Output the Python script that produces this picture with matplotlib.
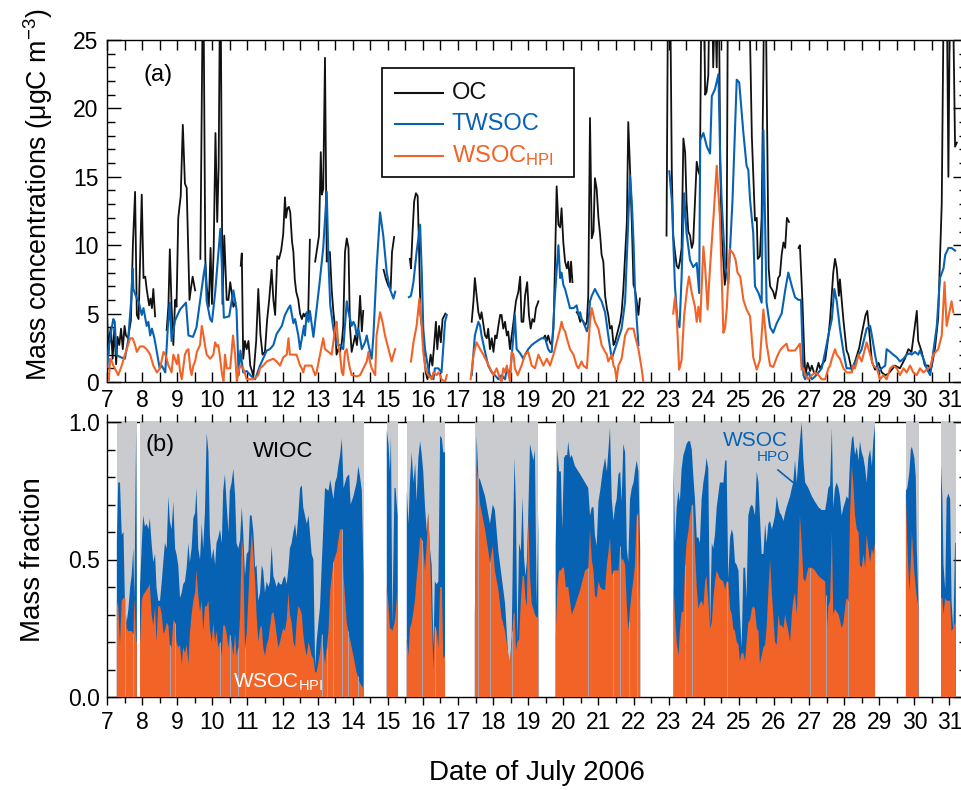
import numpy as np
import matplotlib
matplotlib.use("Agg")
import matplotlib.pyplot as plt
from matplotlib.ticker import MultipleLocator, FormatStrFormatter
from matplotlib.patches import Rectangle
from matplotlib.lines import Line2D

nan = float("nan")

# ---------------- (a) mass concentrations, ugC m-3 : (day of July, value) ----------------
OC = [
    (7.00, 5.1), (7.04, 2.0), (7.08, 3.5), (7.11, 4.0), (7.16, 1.7), (7.21, 3.9), (7.26, 1.3), (7.30, 3.3),
    (7.35, 2.7), (7.40, 3.9), (7.45, 2.4), (7.50, 4.1), (7.54, 3.4), (7.60, 3.2), (7.68, 4.5), (7.74, 10.2),
    (7.80, 13.9), (7.85, 4.9), (7.90, 4.6), (7.99, 13.7), (8.04, 7.6), (8.09, 7.7), (8.13, 6.8), (8.20, 5.6),
    (8.24, 6.1), (8.28, 5.4), (8.32, 6.8), (8.37, 4.8), (8.40, nan),
    (8.70, 3.8), (8.75, 5.6), (8.79, 9.7), (8.84, 5.5), (8.89, 2.7), (8.94, 6.0), (8.98, 5.5), (9.03, 12.0),
    (9.10, 13.6), (9.16, 18.8), (9.22, 14.5), (9.27, 14.2), (9.35, 6.0), (9.40, 7.0), (9.44, 7.7), (9.51, 6.7),
    (9.55, nan),
    (9.66, 9.0), (9.74, 32.0), (9.80, 9.0), (9.84, 7.0), (9.90, 5.5), (9.95, 9.8), (9.99, 5.7), (10.04, 9.8),
    (10.09, 18.2), (10.14, 11.7), (10.18, 15.7), (10.23, 32.0), (10.29, 5.7), (10.34, 10.7), (10.41, 6.0),
    (10.46, 6.0), (10.51, 7.3), (10.56, 6.4), (10.60, 5.5), (10.66, 5.8), (10.70, nan),
    (10.81, 8.5), (10.84, 9.4), (10.88, 1.7), (10.93, 3.0), (10.98, 2.4), (11.03, 3.0), (11.08, 1.2),
    (11.13, 0.8), (11.17, 0.4), (11.25, 3.0), (11.31, 6.8), (11.37, 3.5), (11.43, 2.0), (11.50, 2.2),
    (11.56, 4.5), (11.62, 6.0), (11.69, 8.2), (11.74, 6.0), (11.79, 4.9), (11.85, 9.2), (11.90, 9.0),
    (11.96, 9.6), (12.02, 10.8), (12.07, 13.5), (12.10, 12.0), (12.14, 12.7), (12.18, 12.8), (12.22, 12.4),
    (12.27, 10.3), (12.31, 9.5), (12.35, 7.5), (12.39, 6.6), (12.45, 6.0), (12.50, 5.0), (12.55, 4.6),
    (12.60, 5.0), (12.63, 4.8), (12.67, 5.0), (12.73, 4.8), (12.78, 10.4), (12.82, nan),
    (12.93, 8.8), (13.00, 10.0), (13.04, 10.7), (13.09, 16.8), (13.12, 13.7), (13.16, 14.1), (13.21, 23.7),
    (13.26, 8.8), (13.29, 9.5), (13.35, 9.5), (13.40, 6.8), (13.45, 5.1), (13.50, 3.9), (13.54, 2.0),
    (13.59, 2.4), (13.64, 2.2), (13.69, 2.9), (13.73, 4.1), (13.78, 9.5), (13.83, 10.5), (13.88, 9.8),
    (13.92, 4.1), (13.97, 2.2), (14.07, 3.4), (14.12, 2.7), (14.16, 3.9), (14.21, 6.3), (14.26, 3.7),
    (14.30, 5.2), (14.33, nan),
    (14.88, 8.2), (14.95, 7.5), (15.02, 7.0), (15.08, 6.8), (15.12, 9.5), (15.18, 10.6), (15.22, nan),
    (15.63, 9.0), (15.66, 8.3), (15.70, 10.7), (15.75, 13.2), (15.80, 13.8), (15.85, 13.6), (15.89, 9.8),
    (15.93, 4.9), (15.98, 3.9), (16.03, 2.0), (16.08, 0.7), (16.13, 0.2), (16.17, 1.0), (16.22, 2.0),
    (16.27, 1.2), (16.32, 2.7), (16.37, 4.4), (16.41, 2.4), (16.46, 4.1), (16.51, 2.9), (16.56, 4.6),
    (16.64, 5.0), (16.68, nan),
    (17.39, 4.4), (17.44, 5.9), (17.48, 7.6), (17.53, 6.3), (17.58, 5.1), (17.63, 4.6), (17.67, 5.1),
    (17.77, 3.4), (17.82, 3.2), (17.86, 3.9), (17.91, 2.4), (17.96, 3.2), (18.01, 2.2), (18.06, 3.4),
    (18.10, 3.2), (18.15, 4.1), (18.20, 4.9), (18.24, 4.9), (18.29, 3.9), (18.34, 4.4), (18.39, 3.4),
    (18.43, 3.7), (18.48, 2.4), (18.58, 4.4), (18.65, 5.9), (18.72, 6.6), (18.77, 7.7), (18.81, 4.4),
    (18.86, 4.4), (18.91, 6.3), (18.97, 7.3), (19.02, 4.9), (19.07, 3.9), (19.12, 4.6), (19.17, 4.4),
    (19.22, 5.4), (19.29, 5.9), (19.33, nan),
    (19.43, 3.2), (19.48, 3.4), (19.53, 3.0), (19.57, 3.4), (19.62, 2.9), (19.67, 2.7), (19.72, 3.9),
    (19.76, 8.3), (19.81, 14.3), (19.86, 11.5), (19.91, 11.3), (19.95, 12.7), (20.00, 10.2), (20.05, 8.8),
    (20.10, 8.3), (20.14, 8.8), (20.19, 7.3), (20.22, 8.8), (20.26, 7.3), (20.30, nan),
    (20.38, 5.1), (20.43, 4.9), (20.48, 4.4), (20.52, 4.6), (20.57, 4.4), (20.62, 4.1), (20.67, 4.4),
    (20.71, 6.3), (20.76, 19.3), (20.81, 10.5), (20.86, 11.0), (20.90, 14.9), (20.95, 14.1), (21.00, 12.0),
    (21.05, 10.7), (21.09, 9.3), (21.14, 8.8), (21.19, 6.3), (21.24, 5.4), (21.28, 4.9), (21.33, 3.9),
    (21.38, 4.1), (21.43, 2.7), (21.47, 2.9), (21.52, 3.4), (21.57, 3.9), (21.62, 4.4), (21.66, 5.1),
    (21.71, 6.8), (21.76, 9.3), (21.81, 11.7), (21.85, 19.0), (21.90, 15.6), (21.95, 11.7), (22.00, 7.1),
    (22.04, 6.8), (22.09, 5.9), (22.14, 4.9), (22.18, 6.1), (22.22, nan),
    (22.94, 10.7), (22.99, 32.0), (23.04, 30.0), (23.09, 15.4), (23.13, 10.7), (23.18, 9.5), (23.23, 8.5),
    (23.28, 8.3), (23.32, 8.8), (23.37, 9.8), (23.42, 17.8), (23.47, 16.8), (23.51, 13.2), (23.56, 11.0),
    (23.61, 10.7), (23.66, 9.8), (23.70, 10.2), (23.75, 13.2), (23.80, 16.1), (23.85, 15.4), (23.89, 15.1),
    (23.94, 30.0), (23.99, 32.0), (24.04, 21.0), (24.08, 21.2), (24.13, 22.4), (24.18, 32.0), (24.23, 30.0),
    (24.27, 23.0), (24.32, 28.0), (24.37, 23.0), (24.42, 32.0), (24.47, 16.0), (24.51, 10.7), (24.56, 8.8),
    (24.60, 7.1), (24.65, 8.3), (24.70, 35.0), (24.90, 40.0), (25.10, 40.0), (25.27, 32.0), (25.37, 18.0),
    (25.46, 11.8), (25.51, 12.0), (25.54, 9.0), (25.60, 9.2), (25.65, 12.0), (25.70, 23.0), (25.74, 35.0),
    (25.80, 20.0), (25.85, 8.3), (25.89, 7.0), (25.98, 6.6), (26.03, 6.1), (26.08, 6.8), (26.12, 7.6),
    (26.17, 7.8), (26.22, 9.3), (26.27, 10.2), (26.32, 9.8), (26.37, 12.0), (26.43, 11.7), (26.47, nan),
    (26.70, 9.8), (26.74, 10.0), (26.81, 6.0), (26.87, 1.6), (26.90, 0.5), (26.96, 1.4), (27.03, 0.8),
    (27.08, 1.2), (27.14, 0.7), (27.19, 0.6), (27.27, 1.4), (27.31, 1.0), (27.38, 1.3), (27.46, 1.6),
    (27.55, 3.3), (27.60, 4.6), (27.69, 8.0), (27.74, 9.0), (27.79, 8.3), (27.85, 6.3), (27.88, 7.5),
    (27.98, 4.5), (28.07, 2.3), (28.12, 2.0), (28.22, 0.8), (28.31, 1.5), (28.43, 2.5), (28.50, 3.5),
    (28.61, 4.9), (28.66, 5.2), (28.74, 3.0), (28.79, 1.5), (28.88, 0.9), (28.98, 1.4), (29.07, 0.7),
    (29.17, 0.5), (29.26, 0.6), (29.45, 1.2), (29.59, 1.0), (29.73, 1.7), (29.83, 2.4), (29.92, 2.2),
    (30.07, 5.2), (30.11, 3.0), (30.21, 2.2), (30.30, 1.2), (30.40, 1.2), (30.45, 0.7), (30.50, 1.2),
    (30.59, 2.5), (30.68, 4.7), (30.73, 9.0), (30.78, 13.0), (30.85, 32.0), (30.92, 30.0), (30.97, 15.0),
    (31.02, 30.0), (31.08, 32.0), (31.16, 17.2), (31.21, 17.5),
]

TWSOC = [
    (7.01, 1.1), (7.05, 2.5), (7.13, 3.9), (7.18, 4.6), (7.22, 4.4), (7.27, 2.0), (7.32, 1.9), (7.40, 1.8),
    (7.51, 1.7), (7.60, 3.0), (7.69, 6.0), (7.73, 8.3), (7.75, 6.8), (7.85, 6.1), (7.90, 5.9), (7.99, 4.9),
    (8.04, 5.4), (8.13, 4.1), (8.18, 4.4), (8.23, 3.4), (8.28, 3.9), (8.35, 3.2), (8.42, 2.2), (8.50, 1.0),
    (8.56, 1.2), (8.66, 0.7), (8.73, 3.9), (8.79, 5.8), (8.84, 3.0), (8.94, 4.5), (9.08, 5.3), (9.25, 5.8),
    (9.32, 3.4), (9.45, 3.3), (9.55, 4.0), (9.75, 7.8), (9.80, 8.6), (9.84, 5.9), (9.94, 4.6), (9.99, 4.4),
    (10.08, 6.5), (10.23, 11.2), (10.33, 4.7), (10.48, 4.8), (10.60, 6.7), (10.69, 5.3), (10.75, 0.5),
    (10.80, 2.3), (10.88, 0.7), (10.98, 0.8), (11.12, 0.4), (11.22, 0.2), (11.36, 1.2), (11.55, 2.3),
    (11.64, 2.4), (11.74, 2.7), (11.83, 3.5), (11.98, 4.1), (12.07, 4.9), (12.17, 5.4), (12.22, 5.6),
    (12.31, 4.3), (12.36, 4.6), (12.45, 3.4), (12.50, 2.4), (12.61, 4.1), (12.64, 3.4), (12.69, 5.1),
    (12.74, 4.4), (12.78, 5.2), (12.88, 3.3), (13.05, 7.1), (13.16, 9.8), (13.26, 13.9), (13.31, 8.8),
    (13.36, 5.6), (13.45, 3.9), (13.54, 2.7), (13.64, 2.7), (13.73, 2.4), (13.83, 5.9), (13.88, 5.1),
    (13.97, 4.1), (14.02, 4.4), (14.07, 4.1), (14.11, 3.4), (14.16, 3.9), (14.21, 3.2), (14.26, 2.4),
    (14.35, 2.9), (14.40, 3.4), (14.45, 2.7), (14.54, 1.7), (14.59, 3.4), (14.68, 8.3), (14.78, 12.4),
    (14.87, 10.7), (14.97, 8.0), (15.06, 6.8), (15.16, 6.1), (15.21, 6.6), (15.25, nan),
    (15.60, 6.2), (15.66, 6.3), (15.73, 7.3), (15.82, 9.5), (15.92, 11.5), (15.97, 7.8), (16.01, 3.9),
    (16.06, 2.4), (16.15, 1.0), (16.20, 0.5), (16.30, 0.2), (16.34, 1.0), (16.44, 1.0), (16.53, 0.7),
    (16.63, 4.4), (16.68, 4.9), (16.72, nan),
    (17.39, 0.5), (17.48, 3.4), (17.58, 4.4), (17.63, 4.1), (17.67, 3.4), (17.77, 2.2), (17.86, 1.2),
    (17.96, 0.7), (18.05, 0.5), (18.15, 0.2), (18.24, 0.5), (18.34, 0.2), (18.39, 1.0), (18.48, 0.5),
    (18.58, 3.4), (18.62, 4.9), (18.67, 2.4), (18.77, 2.1), (18.86, 1.7), (18.91, 2.0), (19.00, 2.4),
    (19.10, 2.7), (19.20, 2.9), (19.38, 3.2), (19.48, 3.2), (19.57, 2.4), (19.62, 2.2), (19.67, 2.2),
    (19.76, 6.3), (19.86, 10.0), (19.91, 7.6), (19.95, 8.0), (20.00, 7.1), (20.05, 6.8), (20.10, 6.3),
    (20.19, 5.4), (20.29, 5.4), (20.38, 5.6), (20.43, 4.9), (20.48, 5.1), (20.52, 4.6), (20.57, 4.4),
    (20.67, 3.7), (20.71, 4.1), (20.76, 5.9), (20.81, 6.3), (20.90, 6.8), (21.00, 6.3), (21.09, 5.9),
    (21.19, 5.1), (21.28, 3.4), (21.38, 1.7), (21.47, 2.4), (21.57, 3.2), (21.66, 3.9), (21.76, 5.9),
    (21.85, 11.7), (21.90, 15.1), (21.95, 13.2), (22.00, 10.2), (22.04, 6.8), (22.09, 4.6), (22.14, 2.7),
    (22.18, nan),
    (23.02, 15.4), (23.09, 13.3), (23.18, 7.0), (23.25, 4.5), (23.31, 4.0), (23.37, 7.7), (23.44, 13.8),
    (23.51, 10.9), (23.61, 8.9), (23.70, 8.4), (23.80, 8.7), (23.87, 6.5), (23.90, 17.7), (23.99, 18.2),
    (24.09, 17.2), (24.18, 16.7), (24.23, 20.9), (24.32, 21.4), (24.42, 22.5), (24.47, 16.2), (24.51, 13.3),
    (24.61, 8.4), (24.65, 8.0), (24.70, 7.2), (24.82, 13.3), (24.94, 22.1), (25.01, 21.9), (25.13, 18.2),
    (25.22, 15.8), (25.27, 15.5), (25.32, 13.3), (25.41, 10.9), (25.46, 7.0), (25.56, 6.5), (25.65, 5.8),
    (25.70, 18.4), (25.79, 5.8), (25.89, 4.0), (25.98, 3.6), (26.08, 4.3), (26.22, 5.0), (26.32, 6.7),
    (26.41, 8.0), (26.51, 7.0), (26.60, 6.2), (26.70, 6.0), (26.77, 6.0), (26.84, 0.5), (26.89, 0.2),
    (26.98, 0.7), (27.08, 0.2), (27.17, 0.4), (27.27, 0.7), (27.36, 1.0), (27.46, 2.2), (27.55, 3.4),
    (27.65, 4.6), (27.72, 6.8), (27.79, 5.9), (27.88, 3.9), (27.98, 2.2), (28.07, 1.0), (28.17, 1.0),
    (28.26, 1.2), (28.36, 1.7), (28.50, 2.4), (28.64, 3.9), (28.74, 4.1), (28.79, 3.4), (28.88, 2.0),
    (28.98, 0.7), (29.07, 1.0), (29.17, 1.2), (29.21, 2.4), (29.31, 2.2), (29.40, 2.0), (29.50, 1.8),
    (29.59, 1.5), (29.69, 1.7), (29.78, 2.0), (29.88, 2.1), (29.92, 2.0), (30.02, 2.2), (30.11, 2.0),
    (30.16, 2.3), (30.26, 1.7), (30.35, 1.0), (30.45, 0.5), (30.54, 2.2), (30.64, 4.1), (30.73, 7.6),
    (30.83, 8.3), (30.88, 9.3), (30.92, 9.5), (30.97, 9.8), (31.06, 9.8), (31.16, 9.6),
]

WSOC_HPI = [
    (7.05, 0.0), (7.09, 1.7), (7.14, 1.5), (7.18, 1.2), (7.28, 0.7), (7.32, 0.5), (7.42, 1.2), (7.51, 2.0),
    (7.66, 3.2), (7.73, 3.2), (7.80, 2.7), (7.85, 2.2), (7.94, 2.6), (8.04, 2.6), (8.13, 2.4), (8.18, 2.2),
    (8.23, 2.0), (8.32, 1.2), (8.42, 0.7), (8.51, 1.0), (8.61, 2.2), (8.66, 2.0), (8.70, 1.7), (8.75, 1.2),
    (8.79, 1.0), (8.84, 0.7), (8.89, 2.0), (8.99, 1.3), (9.03, 2.0), (9.08, 0.8), (9.13, 0.2), (9.18, 1.2),
    (9.22, 2.0), (9.27, 2.3), (9.32, 2.4), (9.37, 1.0), (9.41, 0.5), (9.46, 1.2), (9.51, 1.5), (9.56, 2.2),
    (9.65, 2.7), (9.70, 4.1), (9.75, 3.4), (9.79, 2.7), (9.84, 2.0), (9.94, 1.7), (10.03, 2.0), (10.08, 2.9),
    (10.13, 2.6), (10.17, 2.7), (10.21, 2.0), (10.27, 0.7), (10.32, 0.0), (10.36, 2.0), (10.41, 1.0),
    (10.51, 1.0), (10.59, 3.4), (10.65, 2.0), (10.70, 0.0), (10.74, 0.7), (10.79, 1.2), (10.88, 1.0),
    (10.98, 0.2), (11.17, 0.2), (11.31, 0.5), (11.36, 1.0), (11.45, 1.2), (11.55, 1.5), (11.64, 1.6),
    (11.74, 1.7), (11.83, 1.5), (11.93, 1.2), (12.02, 1.8), (12.12, 2.0), (12.17, 3.2), (12.21, 2.0),
    (12.31, 2.0), (12.40, 2.0), (12.50, 1.2), (12.55, 1.0), (12.59, 0.7), (12.64, 1.2), (12.74, 1.2),
    (12.83, 1.2), (12.93, 0.5), (12.97, 0.7), (13.07, 2.0), (13.16, 3.2), (13.21, 2.4), (13.31, 2.2),
    (13.40, 2.0), (13.50, 3.9), (13.54, 4.4), (13.59, 2.7), (13.64, 2.0), (13.69, 0.7), (13.73, 0.5),
    (13.78, 2.2), (13.83, 2.4), (13.88, 1.5), (13.92, 1.0), (13.97, 0.5), (14.02, 0.5), (14.11, 0.4),
    (14.21, 0.5), (14.40, 1.5), (14.45, 2.2), (14.49, 1.5), (14.54, 1.0), (14.64, 0.5), (14.68, 3.4),
    (14.78, 5.1), (14.83, 4.6), (14.87, 4.1), (14.92, 3.4), (15.02, 2.4), (15.11, 1.5), (15.16, 2.0),
    (15.21, 2.4), (15.25, nan),
    (15.66, 1.5), (15.73, 2.9), (15.82, 4.1), (15.90, 6.1), (15.95, 4.6), (16.01, 2.2), (16.06, 1.2),
    (16.11, 0.7), (16.15, 0.5), (16.25, 0.2), (16.30, 0.7), (16.39, 0.5), (16.44, 0.7), (16.49, 0.5),
    (16.53, 0.2), (16.63, 0.0), (16.68, 0.5), (16.72, nan),
    (17.36, 0.2), (17.44, 2.0), (17.53, 2.9), (17.63, 2.4), (17.72, 2.0), (17.82, 1.5), (17.91, 1.0),
    (18.01, 0.5), (18.10, 1.0), (18.20, 0.2), (18.24, 0.0), (18.29, 1.0), (18.34, 0.7), (18.39, 1.2),
    (18.48, 0.0), (18.53, 2.2), (18.58, 2.0), (18.62, 1.0), (18.70, 0.5), (18.81, 1.2), (18.91, 2.0),
    (19.00, 2.2), (19.10, 1.2), (19.19, 1.0), (19.29, 2.0), (19.38, 1.5), (19.43, 1.2), (19.53, 1.7),
    (19.62, 1.2), (19.72, 2.0), (19.86, 3.4), (19.91, 3.9), (19.95, 4.4), (20.00, 3.9), (20.05, 3.7),
    (20.10, 3.2), (20.19, 2.4), (20.29, 2.0), (20.38, 1.2), (20.43, 1.0), (20.52, 1.5), (20.57, 1.2),
    (20.67, 1.0), (20.76, 4.4), (20.81, 5.4), (20.90, 4.4), (21.00, 3.9), (21.09, 2.7), (21.19, 2.2),
    (21.24, 2.0), (21.28, 1.5), (21.38, 2.0), (21.43, 1.2), (21.47, 1.0), (21.52, 0.2), (21.57, 1.2),
    (21.66, 1.7), (21.76, 3.4), (21.85, 3.9), (21.95, 3.9), (22.00, 3.9), (22.04, 3.4), (22.14, 2.4),
    (22.23, 1.0), (22.28, 0.0), (22.31, nan),
    (23.13, 5.0), (23.18, 6.2), (23.23, 4.8), (23.30, 0.9), (23.37, 1.6), (23.44, 4.8), (23.52, 6.7),
    (23.58, 7.7), (23.66, 6.5), (23.75, 5.5), (23.80, 4.4), (23.85, 5.5), (23.90, 4.4), (23.99, 9.9),
    (24.04, 8.4), (24.11, 5.3), (24.18, 8.4), (24.28, 12.1), (24.37, 15.8), (24.46, 12.1), (24.56, 3.6),
    (24.61, 4.0), (24.66, 5.5), (24.74, 9.7), (24.84, 9.4), (24.91, 8.9), (24.96, 8.0), (25.04, 7.7),
    (25.13, 6.0), (25.22, 5.3), (25.32, 4.8), (25.41, 1.8), (25.51, 0.9), (25.60, 1.6), (25.70, 5.3),
    (25.79, 2.8), (25.89, 1.2), (25.98, 1.1), (26.08, 1.8), (26.17, 2.3), (26.27, 2.6), (26.36, 2.8),
    (26.41, 2.3), (26.51, 2.3), (26.60, 2.3), (26.74, 2.8), (26.79, 0.9), (26.84, 1.0), (26.89, 0.5),
    (26.98, 0.2), (27.08, 0.5), (27.17, 0.7), (27.27, 0.5), (27.36, 0.2), (27.46, 0.2), (27.55, 1.0),
    (27.60, 1.2), (27.65, 1.7), (27.74, 2.4), (27.79, 2.0), (27.88, 1.7), (27.98, 1.0), (28.07, 0.7),
    (28.22, 0.7), (28.26, 1.2), (28.31, 1.0), (28.41, 2.0), (28.50, 1.5), (28.64, 2.9), (28.74, 2.0),
    (28.83, 1.2), (28.93, 1.0), (29.02, 0.2), (29.12, 0.5), (29.21, 0.2), (29.31, 1.0), (29.40, 1.2),
    (29.50, 1.0), (29.59, 0.5), (29.69, 1.0), (29.78, 0.7), (29.88, 1.2), (29.97, 0.7), (30.07, 0.5),
    (30.16, 1.0), (30.26, 0.7), (30.40, 1.0), (30.45, 1.1), (30.54, 2.0), (30.68, 2.4), (30.78, 3.4),
    (30.86, 7.3), (30.92, 4.1), (31.02, 5.4), (31.06, 5.9), (31.11, 5.1),
]

# ---------------- (b) mass fractions of OC : (day of July, fraction) ----------------
TWSOC_FRAC = [
    (7.28, .57), (7.32, .78), (7.37, .78), (7.42, .59), (7.47, .60), (7.51, .35), (7.56, .27), (7.61, .32),
    (7.66, .40), (7.70, .44), (7.75, .54), (7.78, .36), (7.83, .97), (7.85, .45), (7.87, nan),
    (7.94, .40), (7.99, .55), (8.03, .66), (8.08, .62), (8.13, .63), (8.18, .61), (8.22, .65), (8.27, .56),
    (8.32, .49), (8.37, .52), (8.41, .40), (8.46, .35), (8.51, .35), (8.56, .42), (8.61, .50), (8.65, .56),
    (8.70, .54), (8.75, .73), (8.79, .64), (8.84, .61), (8.89, .71), (8.94, .54), (8.98, .52), (9.03, .48),
    (9.08, .36), (9.13, .38), (9.17, .41), (9.22, .42), (9.27, .47), (9.32, .56), (9.36, .49), (9.41, .54),
    (9.46, .65), (9.51, .67), (9.55, .76), (9.60, .54), (9.65, .50), (9.70, .63), (9.74, .54), (9.79, .67),
    (9.84, .96), (9.89, .89), (9.93, .59), (9.98, .50), (10.03, .54), (10.08, .48), (10.12, .56),
    (10.17, .58), (10.22, .61), (10.27, .56), (10.31, .75), (10.36, .81), (10.41, .70), (10.46, .60),
    (10.50, .75), (10.55, .78), (10.60, .83), (10.65, .73), (10.69, .56), (10.74, .54), (10.79, .57),
    (10.84, .69), (10.88, .60), (10.93, .44), (10.98, .52), (11.03, .53), (11.07, .66), (11.12, .66),
    (11.17, .60), (11.22, .47), (11.26, .48), (11.31, .35), (11.36, .38), (11.41, .48), (11.45, .46),
    (11.50, .38), (11.55, .42), (11.60, .40), (11.64, .42), (11.69, .55), (11.74, .44), (11.79, .42),
    (11.83, .40), (11.88, .42), (11.93, .41), (11.98, .41), (12.02, .43), (12.07, .44), (12.12, .41),
    (12.17, .47), (12.21, .54), (12.26, .56), (12.31, .60), (12.36, .63), (12.40, .58), (12.45, .66),
    (12.50, .76), (12.55, .77), (12.59, .69), (12.64, .66), (12.69, .63), (12.74, .66), (12.78, .60),
    (12.83, .52), (12.88, .50), (12.93, .11), (12.97, .20), (13.07, .33), (13.12, .49), (13.21, .76),
    (13.31, .75), (13.36, .79), (13.45, .72), (13.50, .78), (13.55, .80), (13.59, .84), (13.64, .88),
    (13.69, .94), (13.74, .76), (13.83, .80), (13.90, .81), (13.94, .70), (14.02, .73), (14.11, .78),
    (14.16, .84), (14.21, .80), (14.26, .75), (14.31, .44), (14.33, nan),
    (14.97, .97), (15.02, .92), (15.06, .82), (15.09, .95), (15.13, .26), (15.19, .76), (15.22, .76),
    (15.28, .66), (15.30, nan),
    (15.54, .75), (15.59, .63), (15.63, .78), (15.68, .89), (15.73, .78), (15.78, .85), (15.82, .71),
    (15.87, .87), (15.92, .93), (15.96, .89), (16.01, .82), (16.06, .69), (16.11, .60), (16.15, .67),
    (16.20, .54), (16.25, .48), (16.30, .18), (16.34, .42), (16.39, .41), (16.44, .42), (16.49, .95),
    (16.54, .94), (16.58, .89), (16.63, .89), (16.65, nan),
    (17.48, .30), (17.53, .95), (17.58, .80), (17.63, .79), (17.77, .73), (17.91, .63), (17.99, .70),
    (18.05, .68), (18.15, .53), (18.24, .44), (18.34, .34), (18.43, .15), (18.48, .12), (18.53, .22),
    (18.58, .68), (18.61, .87), (18.65, .69), (18.69, .20), (18.74, .56), (18.79, .53), (18.84, .73),
    (18.88, .51), (18.92, .44), (18.96, .49), (19.00, .66), (19.05, .92), (19.10, .89), (19.15, .86),
    (19.19, .90), (19.24, .33), (19.29, .67), (19.31, nan),
    (19.78, .55), (19.83, .90), (19.88, .82), (19.93, .82), (19.97, .61), (20.02, .87), (20.07, .88),
    (20.11, .88), (20.14, .93), (20.19, .87), (20.24, .88), (20.33, .84), (20.48, .81), (20.62, .78),
    (20.71, .76), (20.76, .66), (20.81, .69), (20.86, .69), (20.90, .59), (20.95, .55), (21.00, .71),
    (21.05, .75), (21.12, .82), (21.19, .87), (21.24, .82), (21.28, .89), (21.33, .98), (21.38, .72),
    (21.43, .64), (21.47, .69), (21.52, .72), (21.57, .81), (21.62, .82), (21.66, .71), (21.71, .92),
    (21.76, .89), (21.81, .54), (21.85, .49), (21.90, .72), (21.95, .76), (22.00, .78), (22.04, .82),
    (22.09, .86), (22.14, .82), (22.19, .54), (22.21, nan),
    (23.14, .87), (23.18, .56), (23.23, .69), (23.28, .75), (23.32, .71), (23.37, .83), (23.42, .88),
    (23.47, .90), (23.51, .92), (23.56, .93), (23.61, .93), (23.66, .90), (23.70, .81), (23.75, .72),
    (23.80, .58), (23.85, .58), (23.89, .56), (23.94, .72), (23.99, .78), (24.04, .82), (24.08, .87),
    (24.13, .83), (24.18, .25), (24.23, .56), (24.27, .54), (24.32, .59), (24.37, .69), (24.46, .78),
    (24.56, .78), (24.61, .86), (24.65, .86), (24.70, .43), (24.75, .58), (24.80, .61), (24.84, .59),
    (24.89, .49), (24.94, .48), (24.99, .46), (25.03, .30), (25.08, .18), (25.13, .47), (25.18, .47),
    (25.22, .36), (25.27, .66), (25.32, .69), (25.37, .70), (25.41, .69), (25.46, .66), (25.51, .82),
    (25.56, .78), (25.60, .66), (25.65, .52), (25.70, .52), (25.75, .63), (25.79, .56), (25.84, .63),
    (25.89, .64), (25.94, .61), (25.98, .63), (26.03, .66), (26.08, .73), (26.13, .69), (26.17, .67),
    (26.22, .66), (26.27, .64), (26.32, .67), (26.36, .69), (26.41, .71), (26.46, .73), (26.51, .76),
    (26.55, .78), (26.60, .86), (26.65, .78), (26.70, .87), (26.74, .93), (26.79, 1.0), (26.84, .86),
    (26.89, .78), (26.98, .76), (27.08, .73), (27.17, .71), (27.27, .69), (27.36, .68), (27.46, .68),
    (27.50, .71), (27.55, .76), (27.60, .77), (27.65, .98), (27.69, .69), (27.74, .76), (27.79, .78),
    (27.84, .76), (27.88, .73), (27.93, .66), (27.98, .69), (28.03, .71), (28.07, .73), (28.12, .72),
    (28.17, .87), (28.22, .94), (28.26, .95), (28.31, .88), (28.36, .91), (28.41, .86), (28.45, .93),
    (28.50, .89), (28.55, .87), (28.60, .83), (28.64, .78), (28.69, .87), (28.74, .90), (28.79, .84),
    (28.83, .93), (28.88, .99), (28.90, nan),
    (29.76, .75), (29.80, .76), (29.86, .82), (29.90, .90), (29.93, .91), (30.00, .87), (30.04, .80),
    (30.07, .54), (30.12, .33), (30.14, nan),
    (30.76, .84), (30.80, .72), (30.83, .48), (30.88, .39), (30.92, .72), (30.97, .74), (31.02, .72),
    (31.06, .35), (31.11, .24), (31.16, .56), (31.18, .56),
]

HPI_FRAC = [
    (7.28, .35), (7.32, .33), (7.37, .19), (7.42, .35), (7.47, .36), (7.51, .36), (7.56, .25), (7.61, .24),
    (7.66, .24), (7.70, .24), (7.75, .23), (7.78, .36), (7.83, .20), (7.85, .20), (7.87, nan),
    (7.94, .19), (7.99, .35), (8.03, .37), (8.08, .38), (8.13, .39), (8.18, .40), (8.22, .41), (8.27, .30),
    (8.32, .26), (8.37, .33), (8.41, .20), (8.46, .33), (8.51, .33), (8.56, .30), (8.61, .23), (8.65, .24),
    (8.70, .27), (8.75, .26), (8.79, .19), (8.84, .18), (8.89, .28), (8.94, .27), (8.98, .20), (9.03, .18),
    (9.08, .19), (9.13, .12), (9.17, .18), (9.22, .16), (9.27, .19), (9.32, .12), (9.36, .23), (9.41, .30),
    (9.46, .35), (9.51, .38), (9.55, .46), (9.60, .37), (9.65, .31), (9.70, .35), (9.74, .24), (9.79, .33),
    (9.84, .33), (9.89, .35), (9.93, .25), (9.98, .20), (10.03, .27), (10.08, .20), (10.12, .24),
    (10.17, .18), (10.22, .20), (10.27, .15), (10.31, .26), (10.36, .26), (10.41, .23), (10.46, .18),
    (10.50, .23), (10.55, .20), (10.60, .15), (10.65, .23), (10.69, .15), (10.74, .18), (10.79, .29),
    (10.84, .58), (10.88, .53), (10.93, .18), (10.98, .23), (11.03, .37), (11.07, .48), (11.12, .60),
    (11.17, .52), (11.22, .42), (11.26, .30), (11.31, .20), (11.36, .25), (11.41, .26), (11.45, .18),
    (11.50, .15), (11.55, .19), (11.60, .21), (11.64, .25), (11.69, .30), (11.74, .31), (11.79, .27),
    (11.83, .23), (11.88, .18), (11.93, .20), (11.98, .23), (12.02, .25), (12.07, .24), (12.12, .28),
    (12.17, .38), (12.21, .30), (12.26, .27), (12.31, .20), (12.36, .18), (12.40, .27), (12.45, .33),
    (12.50, .32), (12.55, .30), (12.59, .23), (12.64, .18), (12.69, .15), (12.74, .20), (12.78, .18),
    (12.83, .15), (12.88, .14), (12.93, .09), (12.97, .09), (13.07, .16), (13.12, .23), (13.21, .12),
    (13.31, .24), (13.36, .39), (13.45, .49), (13.50, .51), (13.55, .53), (13.59, .57), (13.64, .61),
    (13.69, .61), (13.74, .44), (13.83, .27), (13.90, .22), (13.94, .20), (14.02, .15), (14.11, .09),
    (14.16, .07), (14.21, .05), (14.26, .04), (14.31, .03), (14.33, nan),
    (14.97, .40), (15.02, .33), (15.06, .25), (15.09, .25), (15.13, .24), (15.19, .27), (15.22, .30),
    (15.28, .40), (15.30, nan),
    (15.54, .21), (15.59, .15), (15.63, .25), (15.68, .27), (15.73, .31), (15.78, .36), (15.82, .43),
    (15.87, .50), (15.92, .58), (15.96, .58), (16.01, .54), (16.06, .46), (16.11, .56), (16.15, .67),
    (16.20, .54), (16.25, .30), (16.30, .10), (16.34, .26), (16.39, .24), (16.44, .18), (16.49, .40),
    (16.54, .40), (16.58, .14), (16.63, .15), (16.65, nan),
    (17.48, .30), (17.53, .84), (17.58, .78), (17.63, .70), (17.77, .61), (17.91, .49), (17.99, .55),
    (18.05, .46), (18.15, .39), (18.24, .29), (18.34, .24), (18.43, .16), (18.48, .13), (18.53, .20),
    (18.58, .30), (18.61, .31), (18.65, .17), (18.69, .20), (18.74, .21), (18.79, .35), (18.84, .44),
    (18.88, .44), (18.92, .36), (18.96, .33), (19.00, .66), (19.05, .44), (19.10, .34), (19.15, .32),
    (19.19, .30), (19.24, .29), (19.29, .29), (19.31, nan),
    (19.78, .21), (19.83, .40), (19.88, .46), (19.93, .46), (19.97, .47), (20.02, .47), (20.07, .40),
    (20.11, .40), (20.14, .40), (20.19, .35), (20.24, .30), (20.33, .33), (20.48, .39), (20.62, .46),
    (20.71, .47), (20.76, .61), (20.81, .50), (20.86, .46), (20.90, .37), (20.95, .36), (21.00, .42),
    (21.05, .40), (21.12, .39), (21.19, .39), (21.24, .48), (21.28, .52), (21.33, .58), (21.38, .44),
    (21.43, .46), (21.47, .46), (21.52, .46), (21.57, .46), (21.62, .55), (21.66, .50), (21.71, .50),
    (21.76, .48), (21.81, .33), (21.85, .24), (21.90, .32), (21.95, .38), (22.00, .43), (22.04, .48),
    (22.09, .66), (22.14, .67), (22.19, .30), (22.21, nan),
    (23.14, .42), (23.18, .30), (23.23, .20), (23.28, .15), (23.32, .24), (23.37, .31), (23.42, .31),
    (23.47, .48), (23.51, .56), (23.56, .60), (23.61, .66), (23.66, .70), (23.70, .70), (23.75, .54),
    (23.80, .40), (23.85, .32), (23.89, .34), (23.94, .35), (23.99, .33), (24.04, .42), (24.08, .44),
    (24.13, .35), (24.18, .25), (24.23, .27), (24.27, .35), (24.32, .42), (24.37, .46), (24.46, .43),
    (24.56, .42), (24.61, .39), (24.65, .42), (24.70, .42), (24.75, .32), (24.80, .30), (24.84, .25),
    (24.89, .24), (24.94, .20), (24.99, .19), (25.03, .13), (25.08, .16), (25.13, .16), (25.18, .13),
    (25.22, .20), (25.27, .27), (25.32, .28), (25.37, .32), (25.41, .33), (25.46, .32), (25.51, .25),
    (25.56, .24), (25.60, .12), (25.65, .15), (25.70, .18), (25.75, .19), (25.79, .25), (25.84, .38),
    (25.89, .50), (25.94, .38), (25.98, .30), (26.03, .20), (26.08, .19), (26.13, .30), (26.17, .26),
    (26.22, .26), (26.27, .25), (26.32, .30), (26.36, .27), (26.41, .24), (26.46, .20), (26.51, .30),
    (26.55, .35), (26.60, .38), (26.65, .30), (26.70, .46), (26.74, .66), (26.79, .56), (26.84, .43),
    (26.89, .42), (26.98, .47), (27.08, .47), (27.17, .46), (27.27, .44), (27.36, .43), (27.46, .42),
    (27.50, .23), (27.55, .33), (27.60, .35), (27.65, .60), (27.69, .30), (27.74, .32), (27.79, .31),
    (27.84, .30), (27.88, .28), (27.93, .25), (27.98, .27), (28.03, .33), (28.07, .36), (28.12, .35),
    (28.17, .67), (28.22, .84), (28.26, .78), (28.31, .66), (28.36, .61), (28.41, .60), (28.45, .48),
    (28.50, .47), (28.55, .52), (28.60, .47), (28.64, .59), (28.69, .54), (28.74, .49), (28.79, .54),
    (28.83, .52), (28.88, .56), (28.90, nan),
    (29.76, .74), (29.80, .55), (29.86, .38), (29.90, .50), (29.93, .60), (30.00, .45), (30.04, .40),
    (30.07, .36), (30.12, .33), (30.14, nan),
    (30.76, .36), (30.80, .36), (30.83, .30), (30.88, .36), (30.92, .35), (30.97, .35), (31.02, .35),
    (31.06, .24), (31.11, .25), (31.16, .27), (31.18, .27),
]

# days where consecutive filter samples meet (thin seams in the stacked areas)
SEAM_DAYS = [7.51, 7.75, 8.80, 8.94, 10.22, 10.51, 10.74, 10.93, 13.12, 13.26, 13.45, 13.69, 13.87,
             14.14, 15.97, 16.35, 17.56, 17.91, 18.55, 20.71, 21.41, 21.62, 21.87, 22.09, 23.47, 23.66,
             24.65, 27.02, 27.47, 28.12]

DAY_TICKS = list(range(7, 32))

BLACK = "#111111"
BLUE = "#0862b3"
ORANGE = "#f26327"
GREY = "#c9cbce"


def unpack(pairs):
    arr = np.array(pairs, dtype=float)
    return arr[:, 0], arr[:, 1]


def finite_runs(x, y):
    """Return (start, end) of each unbroken run of finite values."""
    ok = np.isfinite(y)
    runs, start = [], None
    for i, good in enumerate(ok):
        if good and start is None:
            start = i
        if (not good or i == len(ok) - 1) and start is not None:
            end = i if good else i - 1
            runs.append((x[start], x[end]))
            start = None
    return runs


plt.rcParams["font.family"] = ["Liberation Sans", "DejaVu Sans"]
plt.rcParams["mathtext.fontset"] = "custom"
plt.rcParams["mathtext.rm"] = "Liberation Sans"
plt.rcParams["mathtext.it"] = "Liberation Sans:italic"
plt.rcParams["mathtext.bf"] = "Liberation Sans:bold"

W, H = 962, 790
fig = plt.figure(figsize=(W / 100, H / 100), dpi=100)


def fx(px):
    return px / W


def fy(py):
    return 1 - py / H


ax1 = fig.add_axes([fx(107), fy(382), 860 / W, 342 / H])
ax2 = fig.add_axes([fx(107), fy(697), 860 / W, 275 / H])

# ---------- panel (a) ----------
oc_d, oc_v = unpack(OC)
tw_d, tw_v = unpack(TWSOC)
hp_d, hp_v = unpack(WSOC_HPI)
ax1.plot(oc_d, oc_v, color=BLACK, lw=1.3, zorder=3)
ax1.plot(tw_d, tw_v, color=BLUE, lw=1.5, zorder=4)
ax1.plot(hp_d, hp_v, color=ORANGE, lw=1.5, zorder=5)
ax1.set_xlim(7, 31.5)
ax1.set_ylim(0, 25)

# ---------- panel (b) ----------
ft_d, ft_v = unpack(TWSOC_FRAC)
fh_d, fh_v = unpack(HPI_FRAC)
for a, b in finite_runs(ft_d, ft_v):
    ax2.axvspan(a, b, ymin=0, ymax=1, color=GREY, lw=0, zorder=1)
ax2.fill_between(ft_d, 0, ft_v, color=BLUE, lw=0, zorder=2)
ax2.fill_between(fh_d, 0, fh_v, color=ORANGE, lw=0, zorder=3)
ok = np.isfinite(fh_v)
seam_top = np.interp(SEAM_DAYS, fh_d[ok], fh_v[ok])
ax2.vlines(SEAM_DAYS, 0, seam_top, color="#a3a7b5", lw=0.7, zorder=4)
ax2.set_xlim(7, 31.5)
ax2.set_ylim(0, 1.0)
ax2.spines["top"].set_zorder(0.5)

# ---------- axes styling ----------
for ax in (ax1, ax2):
    for sp in ax.spines.values():
        sp.set_linewidth(1.0)
    ax.set_xticks(DAY_TICKS)
    ax.xaxis.set_minor_locator(MultipleLocator(0.5))
    ax.tick_params(axis="both", labelsize=16.5, colors="black")

ax1.yaxis.set_major_locator(MultipleLocator(5))
ax1.yaxis.set_minor_locator(MultipleLocator(1))
ax1.tick_params(axis="x", which="both", direction="in", top=True, bottom=True,
                length=7, width=1.0, pad=5)
ax1.tick_params(axis="y", which="major", direction="in", left=True, right=True,
                length=10, width=1.0, pad=6)
ax1.tick_params(axis="y", which="minor", direction="in", left=True, right=True,
                length=5.5, width=1.0)

ax2.yaxis.set_major_locator(MultipleLocator(0.5))
ax2.yaxis.set_minor_locator(MultipleLocator(0.1))
ax2.yaxis.set_major_formatter(FormatStrFormatter("%.1f"))
ax2.tick_params(axis="x", which="major", direction="out", top=True, bottom=True,
                length=6, width=1.0, pad=4)
ax2.tick_params(axis="x", which="minor", direction="out", top=True, bottom=True,
                length=4, width=1.0)
ax2.tick_params(axis="y", which="major", direction="in", left=True, right=True,
                length=10, width=1.0, pad=5)
ax2.tick_params(axis="y", which="minor", direction="in", left=True, right=True,
                length=5.5, width=1.0)

# ---------- labels ----------
fig.text(fx(38), fy(195), "Mass concentrations (\u03bcgC m$^{-3}$)", rotation=90,
         ha="center", va="center", fontsize=19.3)
fig.text(fx(33), fy(560), "Mass fraction", rotation=90, ha="center", va="center", fontsize=20)
fig.text(fx(537), fy(773), "Date of July 2006", ha="center", va="center", fontsize=20)

fig.text(fx(158), fy(75), "(a)", ha="center", va="center", fontsize=17)
fig.text(fx(160), fy(445), "(b)", ha="center", va="center", fontsize=17)
fig.text(fx(283), fy(451), "WIOC", ha="center", va="center", fontsize=16, zorder=10)
fig.text(fx(278), fy(682), "WSOC$_{\\mathrm{HPI}}$", ha="center", va="center", fontsize=15,
         color="white", zorder=10)
fig.text(fx(755), fy(440), "WSOC", ha="center", va="center", fontsize=15, color=BLUE, zorder=10)
fig.text(fx(773), fy(457), "HPO", ha="center", va="center", fontsize=11, color=BLUE, zorder=10)
fig.add_artist(Line2D([fx(778), fx(795)], [fy(470), fy(484)], color=BLUE, lw=1.2))

# ---------- legend box ----------
fig.add_artist(Rectangle((fx(382), fy(177)), 192 / W, 109 / H, fill=False,
                         edgecolor="black", lw=1.2))
legend_rows = [("OC", BLACK, 93), ("TWSOC", BLUE, 124), ("WSOC$_{\\mathrm{HPI}}$", ORANGE, 156)]
for label, col, ypx in legend_rows:
    fig.add_artist(Line2D([fx(395), fx(443)], [fy(ypx), fy(ypx)], color=col, lw=1.5))
    fig.text(fx(452), fy(ypx), label, ha="left", va="center", fontsize=17, color=col)

fig.savefig("out.png", dpi=100)
